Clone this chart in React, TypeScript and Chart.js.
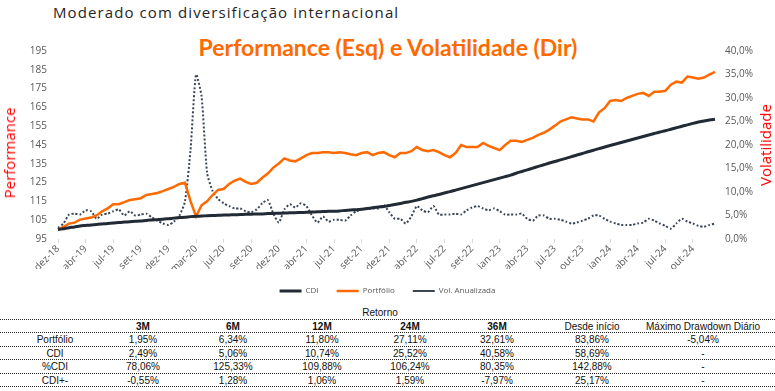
import React, { useEffect, useRef } from 'react';
import { Chart, registerables } from 'chart.js';

Chart.register(...registerables);

// ---- DATA ----
const tickLabels = [
  'dez-18', 'abr-19', 'jul-19', 'set-19', 'dez-19', 'mar-20', 'jul-20', 'set-20',
  'dez-20', 'abr-21', 'jul-21', 'set-21', 'dez-21', 'abr-22', 'jul-22', 'set-22',
  'jan-23', 'abr-23', 'jul-23', 'out-23', 'jan-24', 'abr-24', 'jul-24', 'out-24',
];
const pointsPerTick = 5;

const cdi = [
  100.0, 100.5, 101.0, 101.4, 101.9, 102.2, 102.5, 102.7, 103.0, 103.3,
  103.5, 103.8, 104.0, 104.2, 104.4, 104.6, 104.9, 105.1, 105.3, 105.5,
  105.8, 106.1, 106.4, 106.6, 106.9, 107.1, 107.2, 107.4, 107.5, 107.6,
  107.7, 107.8, 107.9, 108.0, 108.1, 108.2, 108.3, 108.35, 108.5, 108.6,
  108.7, 108.8, 108.9, 109.0, 109.1, 109.2, 109.35, 109.5, 109.6, 109.7,
  109.8, 109.95, 110.2, 110.4, 110.6, 110.85, 111.2, 111.6, 112.0, 112.3,
  112.8, 113.3, 113.9, 114.5, 115.0, 115.7, 116.5, 117.3, 118.0, 118.7,
  119.5, 120.2, 121.0, 121.8, 122.6, 123.4, 124.2, 125.0, 125.8, 126.6,
  127.4, 128.2, 129.0, 130.0, 130.9, 131.8, 132.7, 133.6, 134.5, 135.4,
  136.2, 137.1, 137.9, 138.8, 139.7, 140.5, 141.4, 142.2, 143.1, 143.9,
  144.7, 145.5, 146.3, 147.1, 147.9, 148.7, 149.5, 150.3, 151.1, 151.9,
  152.6, 153.4, 154.2, 155.0, 155.7, 156.5, 157.2, 157.8, 158.3, 158.7,
];

const portfolio = [
  100.0, 101.5, 103.2, 103.7, 105.3, 105.9, 106.4, 107.5, 109.7, 111.3,
  113.5, 113.5, 114.6, 115.7, 116.2, 116.7, 118.4, 118.9, 119.5, 120.5,
  121.6, 122.7, 124.3, 124.9, 115.1, 107.0, 112.9, 115.1, 118.4, 121.1,
  121.6, 124.3, 126.0, 127.1, 125.4, 124.3, 124.9, 127.6, 129.8, 133.0,
  135.2, 137.9, 136.8, 136.3, 137.9, 139.6, 140.7, 140.7, 141.2, 141.2,
  140.7, 141.2, 140.7, 140.1, 139.6, 140.7, 141.2, 139.6, 140.7, 141.2,
  139.6, 138.5, 140.7, 140.7, 141.7, 143.9, 142.3, 141.7, 142.3, 141.2,
  139.6, 138.5, 140.7, 145.0, 143.9, 143.9, 143.9, 146.1, 144.5, 143.4,
  142.3, 145.0, 147.2, 147.2, 146.6, 147.7, 148.8, 150.4, 151.5, 153.2,
  155.3, 157.5, 158.6, 159.7, 159.1, 158.6, 158.6, 157.5, 162.4, 164.6,
  168.4, 168.9, 168.4, 170.0, 171.1, 172.2, 172.7, 171.1, 173.3, 173.3,
  173.8, 177.1, 178.7, 178.2, 181.4, 180.9, 180.3, 180.9, 182.5, 183.9,
];

const volAnualizada = [
  2.4, 3.3, 5.2, 5.4, 5.2, 6.1, 5.9, 4.3, 5.2, 5.4,
  5.9, 6.3, 5.0, 5.9, 5.0, 5.2, 5.4, 4.6, 3.9, 3.3,
  3.0, 3.7, 5.0, 8.0, 18.9, 35.0, 30.4, 14.1, 10.2, 8.5,
  7.6, 7.0, 6.5, 6.5, 5.9, 5.7, 6.3, 7.6, 8.3, 5.4,
  3.5, 6.3, 7.4, 6.7, 7.6, 7.0, 5.0, 3.5, 4.8, 3.7,
  4.1, 4.1, 3.9, 5.0, 5.9, 6.3, 6.5, 6.5, 6.5, 7.2,
  5.7, 4.3, 4.3, 3.3, 4.8, 7.0, 6.1, 5.7, 7.0, 5.2,
  5.2, 5.2, 5.4, 5.2, 6.1, 6.7, 7.0, 6.5, 6.1, 6.5,
  5.9, 5.2, 5.2, 5.2, 5.4, 4.3, 3.9, 5.0, 5.0, 4.3,
  4.3, 4.1, 3.7, 3.3, 3.5, 3.9, 4.3, 5.0, 5.0, 4.3,
  3.7, 3.3, 3.0, 3.0, 3.0, 3.3, 3.5, 4.3, 3.9, 3.3,
  2.8, 2.2, 3.3, 4.3, 3.7, 3.3, 2.8, 2.6, 3.0, 3.3,
];

const tableTitle = 'Retorno';
const tableHeader = ['', '3M', '6M', '12M', '24M', '36M', 'Desde início', 'Máximo Drawdown Diário'];
const rowPortfolio = ['Portfólio', '1,95%', '6,34%', '11,80%', '27,11%', '32,61%', '83,86%', '-5,04%'];
const rowCdi = ['CDI', '2,49%', '5,06%', '10,74%', '25,52%', '40,58%', '58,69%', '-'];
const rowPctCdi = ['%CDI', '78,06%', '125,33%', '109,88%', '106,24%', '80,35%', '142,88%', '-'];
const rowCdiPlus = ['CDI+-', '-0,55%', '1,28%', '1,06%', '1,59%', '-7,97%', '25,17%', '-'];

// ---- LAYOUT ----
const colCenters = [55, 143, 233, 322, 410, 497, 592, 703];
const tickColor = '#595959';
const tickFont = { family: 'Open Sans', size: 10 };

export default function App() {
  const canvasRef = useRef<HTMLCanvasElement>(null);

  useEffect(() => {
    const labels = cdi.map((_, i) =>
      i % pointsPerTick === 0 && tickLabels[i / pointsPerTick] ? tickLabels[i / pointsPerTick] : ''
    );
    const chart = new Chart(canvasRef.current as HTMLCanvasElement, {
      type: 'line',
      data: {
        labels,
        datasets: [
          {
            label: 'CDI',
            data: cdi,
            borderColor: '#222A35',
            backgroundColor: '#222A35',
            borderWidth: 3,
            pointRadius: 0,
            tension: 0.2,
            yAxisID: 'y',
          },
          {
            label: 'Portfólio',
            data: portfolio,
            borderColor: '#FF6A00',
            backgroundColor: '#FF6A00',
            borderWidth: 2.5,
            pointRadius: 0,
            tension: 0,
            yAxisID: 'y',
          },
          {
            label: 'Vol. Anualizada',
            data: volAnualizada,
            borderColor: '#3A4655',
            backgroundColor: '#3A4655',
            borderWidth: 2,
            borderDash: [2, 2],
            pointRadius: 0,
            tension: 0.2,
            yAxisID: 'y1',
          },
        ],
      },
      options: {
        animation: false,
        responsive: false,
        layout: { padding: { top: 21, left: 0, right: 0, bottom: 0 } },
        plugins: {
          tooltip: { enabled: false },
          legend: {
            position: 'bottom',
            labels: {
              usePointStyle: true,
              pointStyle: 'line',
              pointStyleWidth: 22,
              padding: 18,
              color: tickColor,
              font: { family: 'Open Sans', size: 8 },
            },
          },
        },
        scales: {
          x: {
            type: 'category',
            offset: false,
            border: { display: false },
            grid: {
              display: true,
              drawOnChartArea: false,
              drawTicks: true,
              tickLength: 4,
              color: (ctx: any) => (ctx.tick && ctx.tick.label ? '#D9D9D9' : 'rgba(0,0,0,0)'),
            },
            ticks: {
              autoSkip: false,
              minRotation: 45,
              maxRotation: 45,
              padding: 0,
              color: tickColor,
              font: tickFont,
            },
            afterFit: (s: any) => {
              s.height = 30;
            },
          },
          y: {
            position: 'left',
            min: 95,
            max: 195,
            border: { display: false },
            grid: { display: false, drawTicks: false },
            ticks: { stepSize: 10, padding: 11, color: tickColor, font: tickFont },
            afterFit: (s: any) => {
              s.width = 58;
            },
          },
          y1: {
            position: 'right',
            min: 0,
            max: 40,
            border: { display: false },
            grid: { display: false, drawTicks: false },
            ticks: {
              stepSize: 5,
              padding: 10,
              color: tickColor,
              font: tickFont,
              callback: (v: any) => Number(v).toFixed(1).replace('.', ',') + '%',
            },
            afterFit: (s: any) => {
              s.width = 60;
            },
          },
        },
      },
    });
    return () => chart.destroy();
  }, []);

  const rows = [tableHeader, rowPortfolio, rowCdi, rowPctCdi, rowCdiPlus];
  const rowTop = [319, 332, 345.5, 359, 372.5];
  const rowH = 13.5;

  return (
    <div
      style={{
        position: 'fixed',
        left: 0,
        top: 0,
        width: 775,
        height: 391,
        background: '#ffffff',
        overflow: 'hidden',
      }}
    >
      <div
        style={{
          position: 'absolute',
          left: 53,
          top: 2,
          fontFamily: 'Open Sans',
          fontSize: 15,
          letterSpacing: 1.1,
          color: '#262626',
          whiteSpace: 'nowrap',
        }}
      >
        Moderado com diversificação internacional
      </div>
      <div
        style={{
          position: 'absolute',
          left: 388,
          top: 47,
          transform: 'translate(-50%, -50%)',
          fontFamily: 'Lato',
          fontWeight: 700,
          fontSize: 23,
          color: '#FF6A00',
          whiteSpace: 'nowrap',
        }}
      >
        Performance (Esq) e Volatilidade (Dir)
      </div>
      <div style={{ position: 'absolute', left: 0, top: 30, width: 775, height: 275 }}>
        <canvas ref={canvasRef} width={775} height={275} style={{ width: 775, height: 275, display: 'block' }} />
      </div>
      <div
        style={{
          position: 'absolute',
          left: 9,
          top: 153,
          transform: 'translate(-50%, -50%) rotate(-90deg)',
          fontFamily: 'Open Sans',
          fontSize: 15,
          color: '#FF0000',
          whiteSpace: 'nowrap',
        }}
      >
        Performance
      </div>
      <div
        style={{
          position: 'absolute',
          left: 765,
          top: 145,
          transform: 'translate(-50%, -50%) rotate(-90deg)',
          fontFamily: 'Open Sans',
          fontSize: 15,
          color: '#FF0000',
          whiteSpace: 'nowrap',
        }}
      >
        Volatilidade
      </div>
      {/* table */}
      <div
        style={{
          position: 'absolute',
          left: 380,
          top: 312,
          transform: 'translate(-50%, -50%)',
          fontFamily: 'Liberation Sans',
          fontSize: 10,
          color: '#111',
          whiteSpace: 'nowrap',
        }}
      >
        {tableTitle}
      </div>
      {rows.map((row, r) => (
        <React.Fragment key={r}>
          <div
            style={{
              position: 'absolute',
              left: 0,
              top: rowTop[r],
              width: 775,
              borderTop: '1px dotted #222',
            }}
          />
          {row.map((cell, c) => (
            <div
              key={c}
              style={{
                position: 'absolute',
                left: colCenters[c],
                top: rowTop[r] + rowH / 2 + 0.5,
                transform: 'translate(-50%, -50%)',
                fontFamily: 'Liberation Sans',
                fontSize: 10,
                fontWeight: r === 0 && c >= 1 && c <= 5 ? 700 : 400,
                color: '#111',
                whiteSpace: 'nowrap',
              }}
            >
              {cell}
            </div>
          ))}
        </React.Fragment>
      ))}
      <div
        style={{
          position: 'absolute',
          left: 0,
          top: 386,
          width: 775,
          borderTop: '1px dotted #222',
        }}
      />
    </div>
  );
}
